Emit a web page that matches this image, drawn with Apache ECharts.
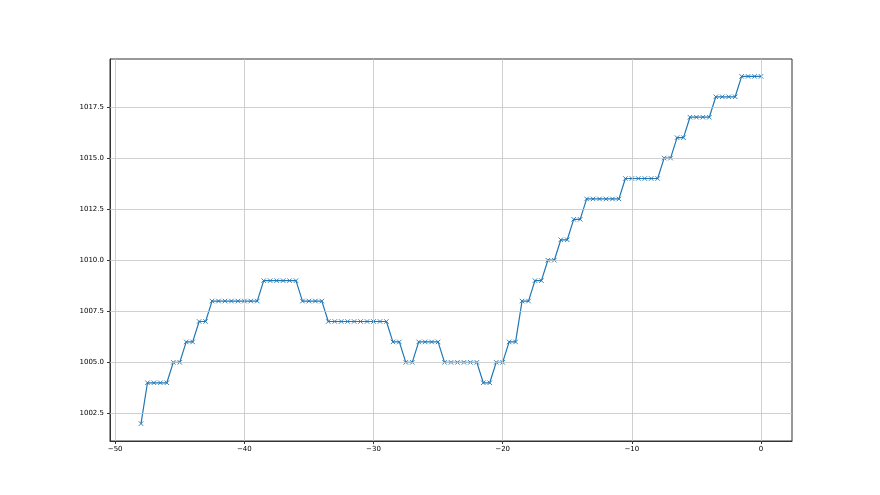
<!DOCTYPE html>
<html>
<head>
<meta charset="utf-8">
<script src="https://cdn.jsdelivr.net/npm/echarts@6/dist/echarts.min.js"></script>
<style>html,body{margin:0;padding:0;background:#fff}#c{width:880px;height:495px}</style>
</head>
<body>
<div id="c"></div>
<script>
// hours relative to now (x) and pressure (y)
const xValues = [-48,-47.5,-47,-46.5,-46,-45.5,-45,-44.5,-44,-43.5,-43,-42.5,-42,-41.5,-41,-40.5,-40,-39.5,-39,-38.5,-38,-37.5,-37,-36.5,-36,-35.5,-35,-34.5,-34,-33.5,-33,-32.5,-32,-31.5,-31,-30.5,-30,-29.5,-29,-28.5,-28,-27.5,-27,-26.5,-26,-25.5,-25,-24.5,-24,-23.5,-23,-22.5,-22,-21.5,-21,-20.5,-20,-19.5,-19,-18.5,-18,-17.5,-17,-16.5,-16,-15.5,-15,-14.5,-14,-13.5,-13,-12.5,-12,-11.5,-11,-10.5,-10,-9.5,-9,-8.5,-8,-7.5,-7,-6.5,-6,-5.5,-5,-4.5,-4,-3.5,-3,-2.5,-2,-1.5,-1,-0.5,0];
const pressure = [1002,1004,1004,1004,1004,1005,1005,1006,1006,1007,1007,1008,1008,1008,1008,1008,1008,1008,1008,1009,1009,1009,1009,1009,1009,1008,1008,1008,1008,1007,1007,1007,1007,1007,1007,1007,1007,1007,1007,1006,1006,1005,1005,1006,1006,1006,1006,1005,1005,1005,1005,1005,1005,1004,1004,1005,1005,1006,1006,1008,1008,1009,1009,1010,1010,1011,1011,1012,1012,1013,1013,1013,1013,1013,1013,1014,1014,1014,1014,1014,1014,1015,1015,1016,1016,1017,1017,1017,1017,1018,1018,1018,1018,1019,1019,1019,1019];
const xTicks = [-50,-40,-30,-20,-10,0];
const yTicks = [1002.5,1005,1007.5,1010,1012.5,1015,1017.5];

const gridColor = '#c4c4c4';
const frameColor = '#333';
const font = 'DejaVu Sans';
const chart = echarts.init(document.getElementById('c'), null, {renderer:'canvas'});
const gridLines = [];
xTicks.forEach(v => gridLines.push({xAxis: v}));
yTicks.forEach(v => gridLines.push({yAxis: v}));

chart.setOption({
  animation: false,
  backgroundColor: '#fff',
  grid: {left: 110, right: 88, top: 59, bottom: 54, show: true, borderColor: frameColor, borderWidth: 1, backgroundColor: 'transparent'},
  xAxis: {
    type: 'value', min: -50.4, max: 2.4,
    axisLine: {show: true, onZero: false, lineStyle: {color: frameColor, width: 1}},
    axisTick: {show: true, length: 3, customValues: xTicks, lineStyle: {color: frameColor}},
    axisLabel: {customValues: xTicks, color: '#000', fontFamily: font, fontSize: 7, margin: 5,
      formatter: v => (v < 0 ? '\u2212' + Math.abs(v) : String(v))},
    splitLine: {show: false}
  },
  yAxis: {
    type: 'value', min: 1001.15, max: 1019.85,
    axisLine: {show: true, onZero: false, lineStyle: {color: frameColor, width: 1}},
    axisTick: {show: true, length: 3, customValues: yTicks, lineStyle: {color: frameColor}},
    axisLabel: {customValues: yTicks, color: '#000', fontFamily: font, fontSize: 7, margin: 6,
      formatter: v => v.toFixed(1)},
    splitLine: {show: false}
  },
  series: [
    {
      type: 'line', data: [], z: 1, silent: true,
      markLine: {silent: true, symbol: ['none','none'], label: {show: false},
        lineStyle: {color: gridColor, width: 0.8, type: 'solid'}, data: gridLines}
    },
    {
      type: 'line', z: 3,
      data: xValues.map((x, i) => [x, pressure[i]]),
      symbol: 'path://M0,0L10,10M10,0L0,10', symbolSize: 4.5, showAllSymbol: true,
      lineStyle: {color: '#1f77b4', width: 1.2},
      itemStyle: {color: '#1f77b4', borderColor: '#1f77b4', borderWidth: 0.9}
    }
  ]
});
</script>
</body>
</html>
